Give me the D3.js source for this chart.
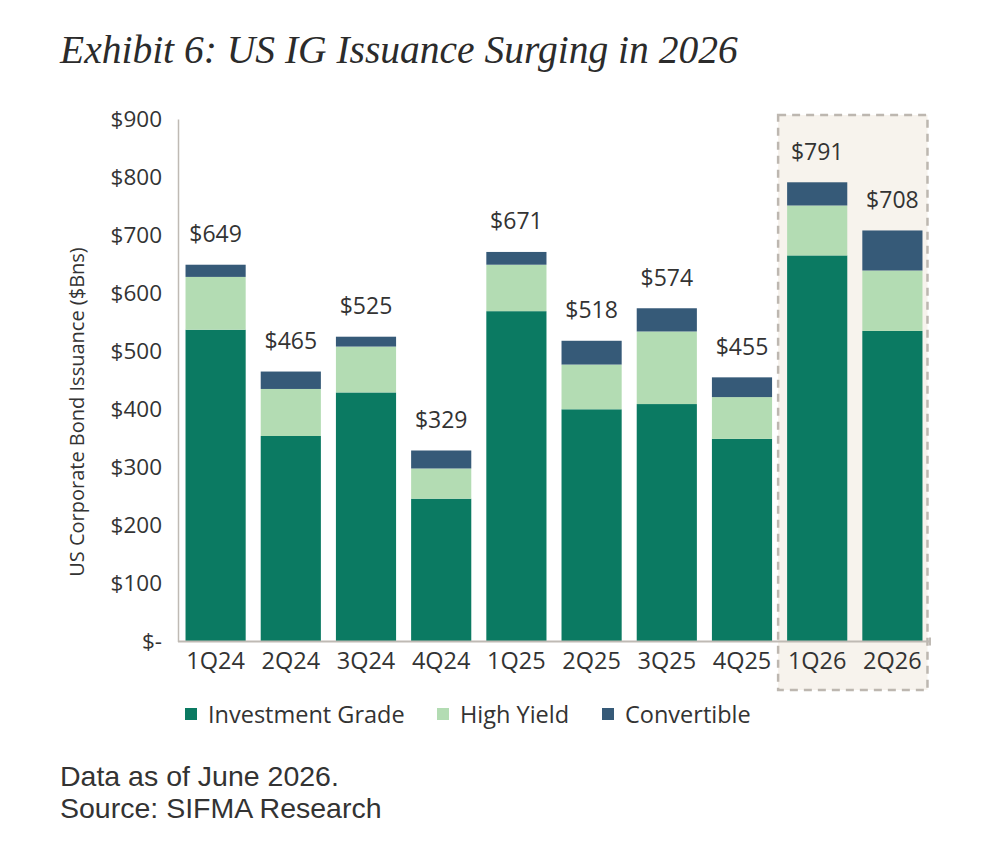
<!DOCTYPE html>
<html>
  <head>
    <script src="https://d3js.org/d3.v7.min.js"></script>
    <style>
      body { margin: 0; background: #fff; }
      text { font-family: 'Open Sans', 'Noto Sans', sans-serif; fill: #333; }
    </style>
  </head>
  <body>
<script type="text/javascript">
var quarters = ['1Q24', '2Q24', '3Q24', '4Q24', '1Q25', '2Q25', '3Q25', '4Q25', '1Q26', '2Q26'];
var investmentGrade = [537, 354, 429, 246, 569, 400, 409, 349, 665, 535];
var highYield = [91, 81, 79, 52, 80, 77, 125, 72, 86, 104];
var convertible = [21, 30, 17, 31, 22, 41, 40, 34, 40, 69];
var totals = [649, 465, 525, 329, 671, 518, 574, 455, 791, 708];
var yTicks = [0, 100, 200, 300, 400, 500, 600, 700, 800, 900];
var seriesNames = ['Investment Grade', 'High Yield', 'Convertible'];
var highlighted = ['1Q26', '2Q26'];

var colors = {'Investment Grade': '#0b7a62', 'High Yield': '#b3dcb3', 'Convertible': '#365a78'};

var width = 986, height = 854;
var plot = {left: 178, right: 930, top: 119, bottom: 641.5};

var svg = d3.select('body').append('svg')
      .attr('width', width)
      .attr('height', height);

var x = d3.scaleBand()
      .domain(quarters)
      .range([plot.left, plot.right])
      .paddingInner(0.2)
      .paddingOuter(0.1);

var y = d3.scaleLinear()
      .domain([0, 900])
      .range([plot.bottom, plot.top]);

// build rows for the stack
var rows = quarters.map(function(q, i) {
  return {q: q, 'Investment Grade': investmentGrade[i], 'High Yield': highYield[i], 'Convertible': convertible[i], total: totals[i]};
});

// highlight box behind 2026 bars
var hx0 = x(highlighted[0]) - 9;
var hx1 = x(highlighted[highlighted.length - 1]) + x.bandwidth() + 5;
svg.append('rect')
    .attr('x', hx0)
    .attr('y', 115)
    .attr('width', hx1 - hx0)
    .attr('height', 690 - 115)
    .attr('fill', '#f7f3ed')
    .attr('stroke', '#bdb7b0')
    .attr('stroke-width', 2.5)
    .attr('stroke-dasharray', '8,6');

// title
svg.append('text')
    .attr('x', 60)
    .attr('y', 63)
    .style('font-family', "'Liberation Serif', 'DejaVu Serif', serif")
    .style('font-style', 'italic')
    .style('font-size', '39.5px')
    .style('fill', '#2b2b2b')
    .text('Exhibit 6: US IG Issuance Surging in 2026');

var stack = d3.stack().keys(seriesNames)(rows);

svg.append('g')
    .selectAll('g')
    .data(stack)
    .enter()
    .append('g')
    .attr('fill', function(d) { return colors[d.key]; })
    .selectAll('rect')
    .data(function(d) { return d; })
    .enter()
    .append('rect')
    .attr('x', function(d) { return x(d.data.q); })
    .attr('y', function(d) { return y(d[1]); })
    .attr('width', x.bandwidth())
    .attr('height', function(d) { return y(d[0]) - y(d[1]); });

// total labels
svg.append('g')
    .selectAll('text')
    .data(rows)
    .enter()
    .append('text')
    .attr('x', function(d) { return x(d.q) + x.bandwidth() / 2; })
    .attr('y', function(d) { return y(d.total) - 22.5; })
    .attr('text-anchor', 'middle')
    .style('font-size', '23px')
    .text(function(d) { return '$' + d.total; });

// y axis
var yAxis = svg.append('g')
    .attr('transform', 'translate(' + plot.left + ',0)')
    .call(d3.axisLeft(y).tickValues(yTicks).tickSize(0).tickPadding(16)
      .tickFormat(function(d) { return d === 0 ? '$-' : '$' + d; }));
yAxis.select('.domain').attr('stroke', '#bfbab4').attr('stroke-width', 1.5);
yAxis.selectAll('text').style('font-size', '22.5px').style('fill', '#333');

// x axis
var xAxis = svg.append('g')
    .attr('transform', 'translate(0,' + plot.bottom + ')')
    .call(d3.axisBottom(x).tickSize(0).tickPadding(11));
xAxis.select('.domain').attr('stroke', '#bfbab4').attr('stroke-width', 2).attr('d', 'M' + plot.left + ',0H' + plot.right + 'M' + plot.right + ',-4V4');
xAxis.selectAll('text').style('font-size', '23.5px').style('fill', '#333');

// y axis title
svg.append('text')
    .attr('transform', 'translate(84,412) rotate(-90)')
    .attr('text-anchor', 'middle')
    .style('font-size', '20px')
    .text('US Corporate Bond Issuance ($Bns)');

// legend
var legendX = [185, 437, 602];
var legend = svg.append('g')
    .selectAll('g')
    .data(seriesNames)
    .enter()
    .append('g')
    .attr('transform', function(d, i) { return 'translate(' + legendX[i] + ',708)'; });
legend.append('rect')
    .attr('width', 12)
    .attr('height', 12)
    .attr('fill', function(d) { return colors[d]; });
legend.append('text')
    .attr('x', 23)
    .attr('y', 14.5)
    .style('font-size', '23.5px')
    .text(function(d) { return d; });

// footnote (tighter line metrics so the two lines don't collide)
var footnotes = ['Data as of June 2026.', 'Source: SIFMA Research'];
svg.append('g')
    .selectAll('text')
    .data(footnotes)
    .enter()
    .append('text')
    .attr('x', 60)
    .attr('y', function(d, i) { return 786 + i * 32; })
    .style('font-family', "'Liberation Sans', Arial, sans-serif")
    .style('font-size', '28.5px')
    .text(function(d) { return d; });
</script>
  </body>
</html>
